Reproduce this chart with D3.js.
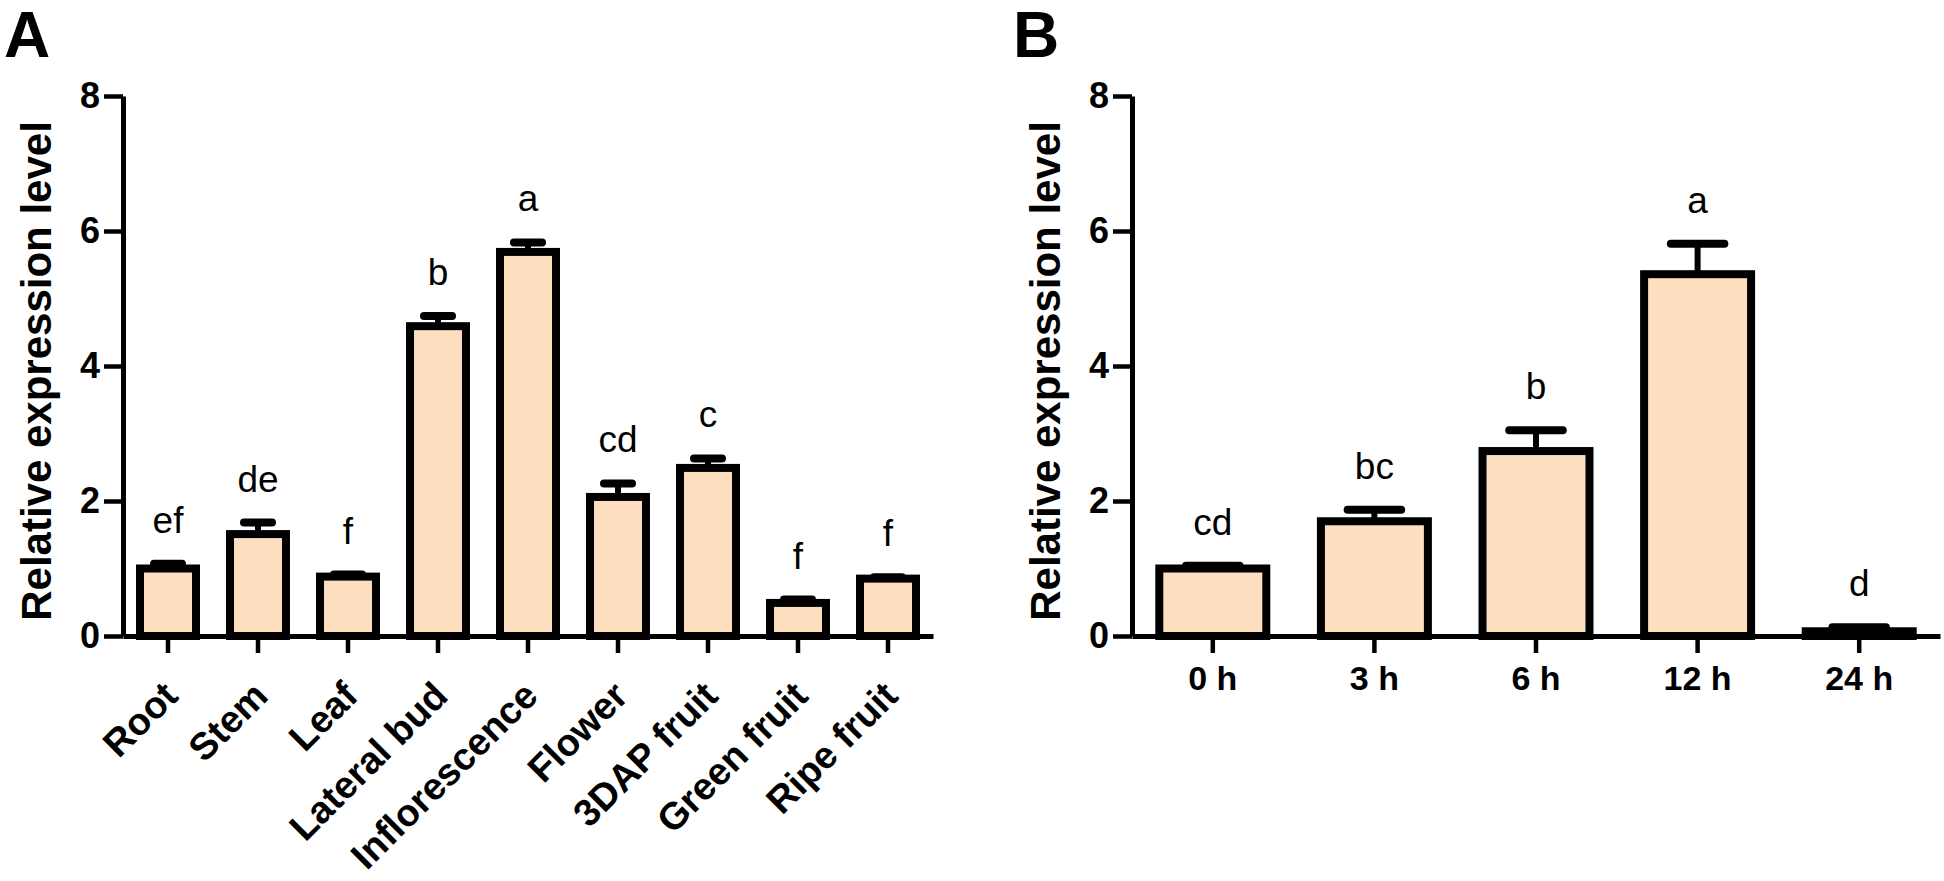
<!DOCTYPE html>
<html>
<head>
<meta charset="utf-8">
<script src="https://cdn.jsdelivr.net/npm/d3@7"></script>
<style>
  html, body { margin: 0; padding: 0; background: #fff; }
  svg { display: block; }
  text { font-family: "Liberation Sans", Arial, sans-serif; fill: #000; }
</style>
</head>
<body>
<svg id="chart" width="1944" height="881"></svg>
<script>
// ---- data ----
const catsA = ["Root", "Stem", "Leaf", "Lateral bud", "Inflorescence", "Flower", "3DAP fruit", "Green fruit", "Ripe fruit"];
const valsA = [1.00, 1.51, 0.88, 4.59, 5.69, 2.06, 2.49, 0.49, 0.85];
const errsA = [0.07, 0.17, 0.03, 0.15, 0.14, 0.20, 0.14, 0.05, 0.02];
const lettersA = ["ef", "de", "f", "b", "a", "cd", "c", "f", "f"];

const catsB = ["0 h", "3 h", "6 h", "12 h", "24 h"];
const valsB = [1.00, 1.70, 2.74, 5.36, 0.07];
const errsB = [0.04, 0.17, 0.31, 0.45, 0.06];
const lettersB = ["cd", "bc", "b", "a", "d"];

const yTicks = [0, 2, 4, 6, 8];
const yTitle = "Relative expression level";

// ---- layout ----
const svg = d3.select("#chart");
const FILL = "#FDDFC0";
const y = d3.scaleLinear().domain([0, 8]).range([636, 96]);

function panel(opts) {
  const { cats, vals, errs, letters, x0, x1, padInner, label, labelX, labelY, titleX, rotate } = opts;
  const g = svg.append("g");
  const x = d3.scaleBand().domain(cats).range([x0, x1]).paddingInner(padInner).paddingOuter(padInner / 2);
  const bw = x.bandwidth();

  // bars
  g.selectAll("rect.bar").data(cats).join("rect")
    .attr("class", "bar")
    .attr("x", d => x(d))
    .attr("width", bw)
    .attr("y", (d, i) => y(vals[i]))
    .attr("height", (d, i) => y(0) - y(vals[i]))
    .attr("fill", FILL)
    .attr("stroke", "#000")
    .attr("stroke-width", 8);

  // error bars
  g.selectAll("line.stem").data(cats).join("line")
    .attr("x1", d => x(d) + bw / 2).attr("x2", d => x(d) + bw / 2)
    .attr("y1", (d, i) => y(vals[i])).attr("y2", (d, i) => y(vals[i] + errs[i]))
    .attr("stroke", "#000").attr("stroke-width", 6);
  g.selectAll("line.cap").data(cats).join("line")
    .attr("x1", d => x(d) + bw / 2 - bw * 0.25).attr("x2", d => x(d) + bw / 2 + bw * 0.25)
    .attr("y1", (d, i) => y(vals[i] + errs[i])).attr("y2", (d, i) => y(vals[i] + errs[i]))
    .attr("stroke", "#000").attr("stroke-width", 8).attr("stroke-linecap", "round");

  // significance letters
  g.selectAll("text.sig").data(cats).join("text")
    .attr("x", d => x(d) + bw / 2)
    .attr("y", (d, i) => y(vals[i] + errs[i]) - 31)
    .attr("text-anchor", "middle")
    .style("font-size", "37px")
    .text((d, i) => letters[i]);

  // y axis
  const ya = g.append("g").attr("transform", `translate(${x0},0)`)
    .call(d3.axisLeft(y).tickValues(yTicks).tickSize(19).tickSizeOuter(0).tickPadding(4).tickFormat(d3.format("d")));
  ya.select(".domain").attr("stroke", "#000").attr("stroke-width", 5);
  ya.selectAll(".tick line").attr("stroke", "#000").attr("stroke-width", 4.5);
  ya.selectAll(".tick text").style("font-size", "36px").style("font-weight", "bold")
    .style("font-family", "'Liberation Sans', Arial, sans-serif");

  // x axis
  const xa = g.append("g").attr("transform", `translate(0,${y(0)})`)
    .call(d3.axisBottom(x).tickSize(17).tickSizeOuter(0).tickFormat(""));
  xa.select(".domain").attr("stroke", "#000").attr("stroke-width", 5);
  xa.selectAll(".tick line").attr("stroke", "#000").attr("stroke-width", 4.5);

  // x labels
  if (rotate) {
    g.selectAll("text.xl").data(cats).join("text")
      .attr("transform", d => `translate(${x(d) + bw / 2 + 12},698) rotate(-45)`)
      .attr("text-anchor", "end")
      .style("font-size", "38px").style("font-weight", "bold")
      .text(d => d);
  } else {
    g.selectAll("text.xl").data(cats).join("text")
      .attr("x", d => x(d) + bw / 2).attr("y", 690)
      .attr("text-anchor", "middle")
      .style("font-size", "34px").style("font-weight", "bold")
      .text(d => d);
  }

  // y title
  g.append("text")
    .attr("transform", `translate(${titleX},${(y(0) + y(8)) / 2 + 5}) rotate(-90)`)
    .attr("text-anchor", "middle")
    .style("font-size", "42px").style("font-weight", "bold")
    .text(yTitle);

  // panel label
  g.append("text").attr("x", labelX).attr("y", labelY)
    .style("font-size", "64px").style("font-weight", "bold").text(label);
}

panel({ cats: catsA, vals: valsA, errs: errsA, letters: lettersA, x0: 123, x1: 933, padInner: 0.378,
        label: "A", labelX: 4, labelY: 57, titleX: 51, rotate: true });
panel({ cats: catsB, vals: valsB, errs: errsB, letters: lettersB, x0: 1132, x1: 1940, padInner: 0.338,
        label: "B", labelX: 1013, labelY: 57, titleX: 1060, rotate: false });
</script>
</body>
</html>
